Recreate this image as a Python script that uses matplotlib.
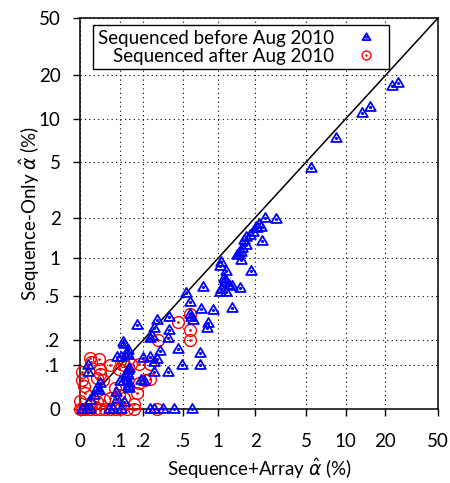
import numpy as np
import matplotlib
matplotlib.use("Agg")
import matplotlib.pyplot as plt
from matplotlib.path import Path

plt.rcParams['font.family'] = ['Lato', 'DejaVu Sans']

# -------------------------------
# data (percent)
# -------------------------------
before_x = [22.4, 25.0, 13.3, 15.3, 8.4, 5.4,
            2.4, 2.9, 2.12, 2.20, 2.08, 2.01, 1.90, 1.80, 1.70, 1.64, 1.70, 1.58, 1.55, 1.47,
            1.44, 2.24, 1.55, 1.06, 1.04, 1.17, 1.86, 1.11, 1.13, 1.17, 0.74, 1.29, 1.50, 1.06,
            1.04, 1.17, 1.24, 1.31,
            0.53, 0.58, 0.72, 0.90, 0.57, 0.59, 0.61, 0.83, 0.81, 0.37, 0.28, 0.17, 0.26, 0.37,
            0.36, 0.25, 0.24, 0.11, 0.115, 0.45, 0.30, 0.70, 0.49, 0.70, 0.26, 0.20, 0.24, 0.26,
            0.28, 0.36, 0.19, 0.13, 0.125, 0.13, 0.09, 0.105, 0.135, 0.13, 0.125, 0.13, 0.11,
            0.125, 0.135, 0.13, 0.135, 0.205, 0.10, 0.014, 0.014, 0.034, 0.039, 0.041, 0.028,
            0.088, 0.09, 0.115, 0.019,
            0.003, 0.013, 0.019, 0.066, 0.078, 0.105, 0.24, 0.26, 0.32, 0.41, 0.60]
before_y = [17.0, 17.8, 11.0, 12.1, 7.3, 4.5,
            2.0, 1.95, 1.79, 1.70, 1.68, 1.70, 1.57, 1.49, 1.44, 1.37, 1.26, 1.19, 1.11, 1.09,
            1.06, 1.35, 0.97, 0.94, 0.87, 0.80, 0.80, 0.70, 0.68, 0.65, 0.60, 0.61, 0.59, 0.57,
            0.54, 0.54, 0.62, 0.40,
            0.53, 0.45, 0.39, 0.38, 0.35, 0.33, 0.31, 0.29, 0.26, 0.33, 0.31, 0.28, 0.26, 0.25,
            0.21, 0.22, 0.21, 0.19, 0.18, 0.16, 0.15, 0.145, 0.10, 0.10, 0.08, 0.125, 0.13, 0.11,
            0.12, 0.08, 0.059, 0.156, 0.145, 0.136, 0.13, 0.13, 0.093, 0.086, 0.077, 0.072, 0.057,
            0.057, 0.052, 0.045, 0.04, 0.055, 0.055, 0.10, 0.08, 0.04, 0.035, 0.05, 0.025,
            0.03, 0.017, 0.012, 0.015,
            0, 0, 0, 0, 0, 0, 0, 0, 0, 0, 0]

after_x = [0.45, 0.57, 0.58, 0.57, 0.29, 0.18, 0.24, 0.18, 0.21, 0.24, 0.11, 0.039, 0.041,
           0.041, 0.068, 0.019, 0.003, 0.003, 0.007, 0.009, 0.0, 0.034, 0.097, 0.115, 0.143,
           0.084, 0.097, 0.068, 0.052, 0.034, 0.022, 0.17, 0.156, 0.022, 0.05, 0.115,
           0.0, 0.003, 0.009, 0.019, 0.03, 0.041, 0.055, 0.068, 0.084, 0.1, 0.127, 0.156, 0.28]
after_y = [0.30, 0.35, 0.25, 0.20, 0.20, 0.105, 0.105, 0.052, 0.059, 0.06, 0.115, 0.12, 0.09,
           0.075, 0.10, 0.125, 0.08, 0.059, 0.045, 0.028, 0.013, 0.065, 0.09, 0.10, 0.105,
           0.04, 0.025, 0.02, 0.015, 0.012, 0.007, 0.028, 0.009, 0.11, 0.059, 0.02,
           0, 0, 0, 0, 0, 0, 0, 0, 0, 0, 0, 0, 0]

ticks = [0, 0.1, 0.2, 0.5, 1, 2, 5, 10, 20, 50]
tick_labels = ['0', '.1', '.2', '.5', '1', '2', '5', '10', '20', '50']


# log scale shifted by 0.1 so that zero fits on the axis
def fwd(v):
    return np.log10(np.asarray(v) + 0.1)


def inv(v):
    return 10 ** np.asarray(v) - 0.1


# markers with a small dot in the middle
dot = Path.circle((0, 0), 0.12)
tri = Path([(0, 1), (-0.95, -0.62), (0.95, -0.62), (0, 1)],
           [Path.MOVETO, Path.LINETO, Path.LINETO, Path.CLOSEPOLY])
tri_marker = Path.make_compound_path(tri, dot)
circ_marker = Path.make_compound_path(Path.unit_circle(), dot)

fig = plt.figure(figsize=(4.5, 4.83), dpi=100)
ax = fig.add_axes([80 / 450, 74 / 483, 358 / 450, 391 / 483])

ax.set_xscale('function', functions=(fwd, inv))
ax.set_yscale('function', functions=(fwd, inv))
ax.set_xlim(0, 50)
ax.set_ylim(0, 50)

ax.plot([0, 50], [0, 50], color='black', lw=1.1, zorder=2)

h2, = ax.plot(after_x, after_y, ls='none', marker=circ_marker, ms=8.5,
              mfc='none', mec='red', mew=1.0, clip_on=False, zorder=3)
h1, = ax.plot(before_x, before_y, ls='none', marker=tri_marker, ms=8,
              mfc='none', mec='blue', mew=1.3, clip_on=False, zorder=4)

ax.set_xticks(ticks)
ax.set_xticklabels(tick_labels)
ax.set_yticks(ticks)
ax.set_yticklabels(tick_labels)
ax.minorticks_off()
ax.tick_params(axis='both', direction='out', length=5, width=1, labelsize=13.5)
ax.tick_params(axis='x', pad=12)
ax.tick_params(axis='y', pad=9)

ax.grid(True, color='black', ls=(0, (1, 3)), lw=0.8)
ax.set_axisbelow(True)
for sp in ax.spines.values():
    sp.set_linewidth(1.1)

ax.set_xlabel(r'Sequence+Array $\hat{\alpha}$ (%)', fontsize=13.5, labelpad=5)
ax.set_ylabel(r'Sequence-Only $\hat{\alpha}$ (%)', fontsize=13.5)
ax.yaxis.set_label_coords(-0.105, 0.5)

leg = ax.legend([h1, h2], ['Sequenced before Aug 2010', 'Sequenced after Aug 2010'],
                loc='upper left', bbox_to_anchor=(0.036, 0.982), markerfirst=False,
                fontsize=13.5, fancybox=False, edgecolor='black', framealpha=1,
                borderpad=0.25, labelspacing=0.05, handlelength=2.0, handletextpad=0.7,
                borderaxespad=0, markerscale=0.75)
leg.get_frame().set_linewidth(1.0)

fig.savefig('out.png', dpi=100)
